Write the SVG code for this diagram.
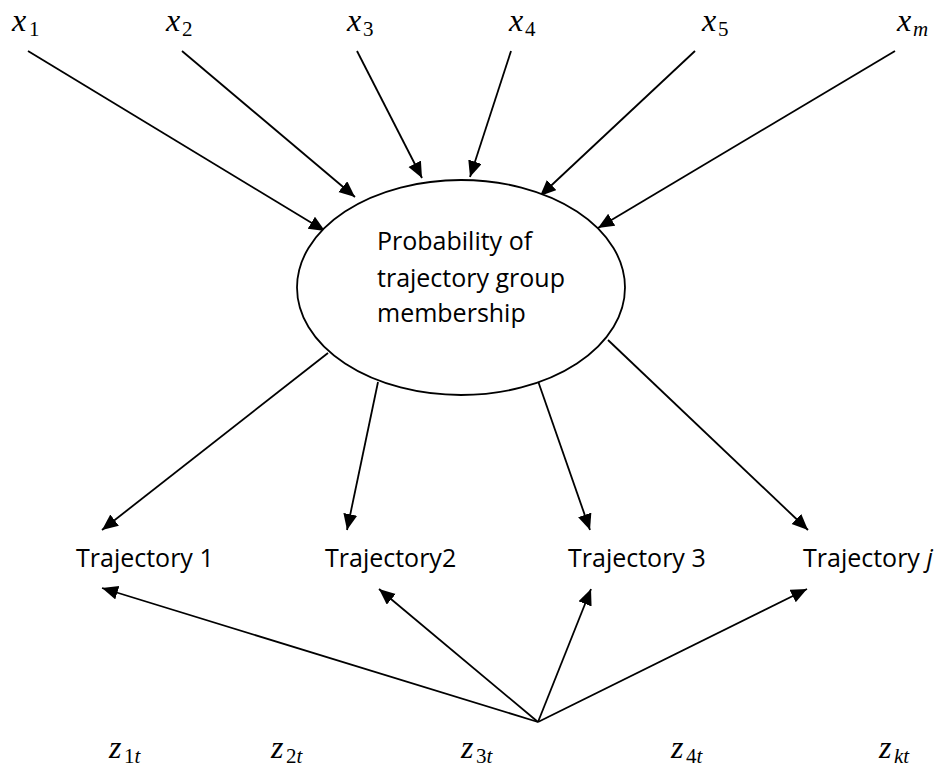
<svg xmlns="http://www.w3.org/2000/svg" width="940" height="770" viewBox="0 0 940 770">
<defs>
<marker id="ah" markerUnits="userSpaceOnUse" markerWidth="17" markerHeight="15" refX="16" refY="7" orient="auto">
<path d="M0,0 L16,7 L0,14 z" fill="#000"/>
</marker>
<style>
.c line{stroke:#000;stroke-width:1.8;fill:none;marker-end:url(#ah)}
.lab{font-family:"Open Sans","Liberation Sans",sans-serif;font-size:25px;fill:#000}
.m{font-family:"Liberation Serif",serif;font-style:italic;font-size:32px;fill:#000}
.s{font-family:"Liberation Serif",serif;font-size:21px;fill:#000}
.si{font-family:"Liberation Serif",serif;font-style:italic;font-size:21px;fill:#000}
</style>
</defs>
<rect width="940" height="770" fill="#fff"/>
<g id="connectors" class="c">
<line x1="28" y1="51" x2="325" y2="231"/>
<line x1="182" y1="51" x2="355" y2="197"/>
<line x1="357" y1="51" x2="422" y2="178"/>
<line x1="511" y1="51" x2="470" y2="177"/>
<line x1="695" y1="51" x2="540" y2="196"/>
<line x1="895" y1="51" x2="598" y2="228"/>
<line x1="328" y1="353" x2="102" y2="530"/>
<line x1="378" y1="382" x2="347" y2="530"/>
<line x1="538" y1="381" x2="590" y2="530"/>
<line x1="608" y1="340" x2="808" y2="530"/>
<line x1="538" y1="722" x2="102" y2="588"/>
<line x1="538" y1="722" x2="379" y2="589"/>
<line x1="538" y1="722" x2="591" y2="589"/>
<line x1="538" y1="722" x2="807" y2="589"/>
</g>
<g id="prob">
<ellipse cx="461" cy="287.5" rx="164" ry="107.5" fill="#fff" stroke="#000" stroke-width="1.8"/>
<text class="lab" x="377" y="250">Probability of</text>
<text class="lab" x="377" y="287">trajectory group</text>
<text class="lab" x="377" y="322">membership</text>
</g>
<g id="traj1"><text class="lab" x="76" y="567">Trajectory 1</text></g>
<g id="traj2"><text class="lab" x="325" y="567">Trajectory2</text></g>
<g id="traj3"><text class="lab" x="568" y="567">Trajectory 3</text></g>
<g id="trajj"><text class="lab" x="803" y="567">Trajectory <tspan font-style="italic">j</tspan></text></g>
<g id="x1"><text class="m" x="12" y="31">x</text><text class="s" x="29" y="36">1</text></g>
<g id="x2"><text class="m" x="166" y="31">x</text><text class="s" x="182" y="36">2</text></g>
<g id="x3"><text class="m" x="347" y="31">x</text><text class="s" x="363" y="36">3</text></g>
<g id="x4"><text class="m" x="509" y="31">x</text><text class="s" x="525" y="36">4</text></g>
<g id="x5"><text class="m" x="702" y="31">x</text><text class="s" x="718" y="36">5</text></g>
<g id="xm"><text class="m" x="897" y="31">x</text><text class="si" x="913" y="36">m</text></g>
<g id="z1"><text class="m" x="109" y="758">z</text><text class="s" x="124" y="763">1<tspan font-style="italic">t</tspan></text></g>
<g id="z2"><text class="m" x="271" y="758">z</text><text class="s" x="286" y="763">2<tspan font-style="italic">t</tspan></text></g>
<g id="z3"><text class="m" x="461" y="758">z</text><text class="s" x="476" y="763">3<tspan font-style="italic">t</tspan></text></g>
<g id="z4"><text class="m" x="671" y="758">z</text><text class="s" x="686" y="763">4<tspan font-style="italic">t</tspan></text></g>
<g id="zk"><text class="m" x="879" y="758">z</text><text class="si" x="894" y="763">kt</text></g>
</svg>
